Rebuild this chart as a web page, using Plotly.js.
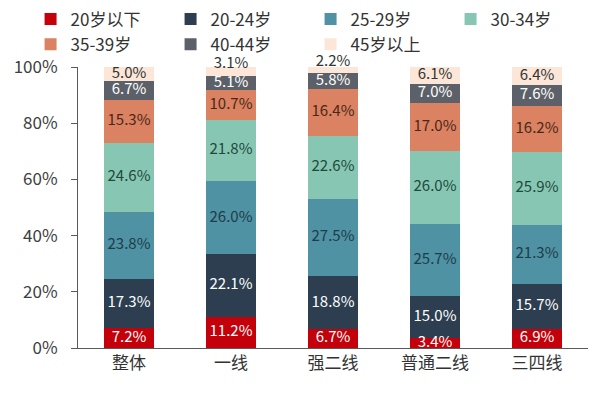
<!DOCTYPE html>
<html>
<head>
<meta charset="utf-8">
<script src="https://cdn.plot.ly/plotly-3.0.1.min.js"></script>
<style>html,body{margin:0;padding:0;background:#fff;}#chart{width:600px;height:409px;}</style>
</head>
<body>
<div id="chart"></div>
<script>
const categories = ["整体", "一线", "强二线", "普通二线", "三四线"];
const seriesNames = ["20岁以下", "20-24岁", "25-29岁", "30-34岁", "35-39岁", "40-44岁", "45岁以上"];
const under20 = [7.2, 11.2, 6.7, 3.4, 6.9];
const age20to24 = [17.3, 22.1, 18.8, 15.0, 15.7];
const age25to29 = [23.8, 26.0, 27.5, 25.7, 21.3];
const age30to34 = [24.6, 21.8, 22.6, 26.0, 25.9];
const age35to39 = [15.3, 10.7, 16.4, 17.0, 16.2];
const age40to44 = [6.7, 5.1, 5.8, 7.0, 7.6];
const over45 = [5.0, 3.1, 2.2, 6.1, 6.4];

const seriesValues = [under20, age20to24, age25to29, age30to34, age35to39, age40to44, over45];
const colors = ["#C4000B", "#2C3E50", "#4E92A3", "#88C6B4", "#DA8262", "#5C6169", "#FBE6D8"];
const textColors = ["#ffffff", "#ffffff", "#1E3C4A", "#1D4A3B", "#4A2818", "#ffffff", "#333333"];

const FONT = "'Noto Sans CJK SC', 'Noto Sans', sans-serif";

const barTraces = seriesNames.map((name, i) => ({
  type: "bar",
  name: name,
  x: categories,
  y: seriesValues[i],
  marker: {color: colors[i], line: {width: 0}},
  textposition: "none",
  hoverinfo: "skip"
}));

// value labels: centred on each stacked segment (midpoint derived from the data);
// labels of very thin top segments sit just above their segment
const cumBase = categories.map(() => 0);
const lastIdx = seriesValues.length - 1;
const labelTraces = seriesValues.map((vals, i) => {
  const mids = vals.map((v, j) => {
    const m = cumBase[j] + v / 2;
    cumBase[j] += v;
    return m;
  });
  return {
    type: "scatter",
    mode: "text",
    x: categories,
    y: mids,
    text: vals.map(v => v.toFixed(1) + "%"),
    textposition: vals.map(v => (i === lastIdx && v < 4) ? "top center" : "middle center"),
    textfont: {family: FONT, size: 15, color: textColors[i]},
    showlegend: false,
    cliponaxis: false,
    hoverinfo: "skip"
  };
});

const layout = {
  width: 600,
  height: 409,
  barmode: "stack",
  bargap: 0.51,
  margin: {l: 78, r: 12, t: 67, b: 61, autoexpand: false},
  paper_bgcolor: "#ffffff",
  plot_bgcolor: "#ffffff",
  font: {family: FONT, color: "#333333"},
  showlegend: true,
  legend: {
    orientation: "h",
    x: -0.093,
    xanchor: "left",
    y: 1.233,
    yanchor: "top",
    entrywidth: 95,
    entrywidthmode: "pixels",
    traceorder: "normal",
    bgcolor: "rgba(0,0,0,0)",
    font: {family: FONT, size: 17, color: "#333333"},
    itemclick: false,
    tracegroupgap: 0
  },
  xaxis: {
    type: "category",
    showline: true,
    linecolor: "#595959",
    linewidth: 1,
    ticks: "",
    showgrid: false,
    zeroline: false,
    tickfont: {family: FONT, size: 17, color: "#333333"},
    fixedrange: true
  },
  yaxis: {
    range: [0, 100],
    dtick: 20,
    tick0: 0,
    ticksuffix: "%",
    showline: true,
    linecolor: "#595959",
    linewidth: 1,
    ticks: "outside",
    ticklen: 6,
    tickcolor: "#595959",
    ticklabelstandoff: 10,
    showgrid: false,
    zeroline: false,
    tickfont: {family: FONT, size: 17, color: "#404040"},
    fixedrange: true
  }
};

Plotly.newPlot("chart", barTraces.concat(labelTraces), layout, {displayModeBar: false, staticPlot: true});
</script>
</body>
</html>
